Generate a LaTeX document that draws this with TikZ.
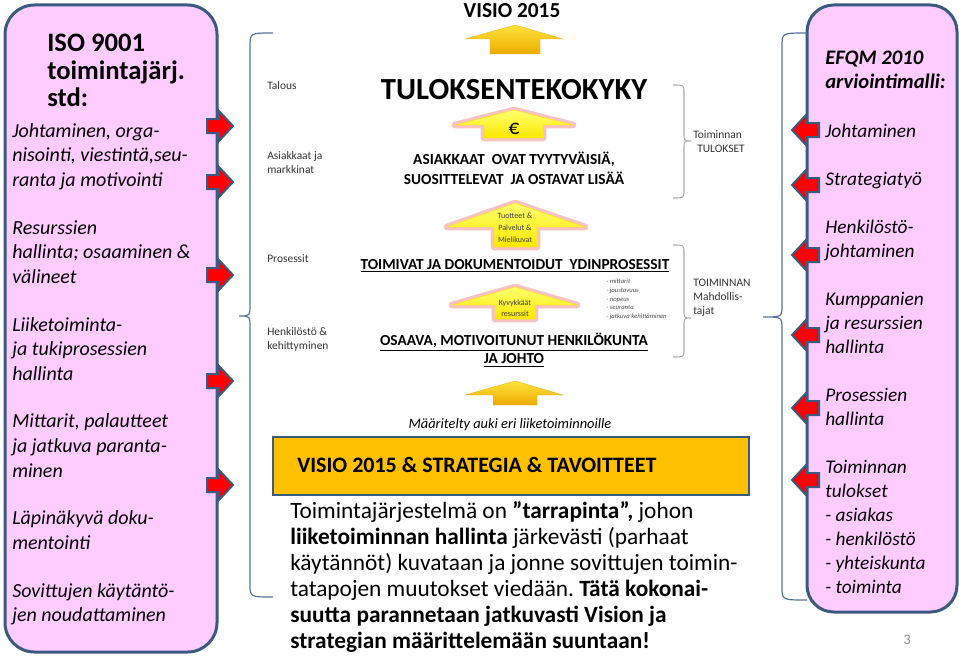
\documentclass[tikz,border=0pt]{standalone}
\usepackage{fontspec}
\setmainfont{Carlito}

\definecolor{pinkfill}{RGB}{255,204,255}
\definecolor{frameblue}{RGB}{59,90,128}
\definecolor{braceblue}{RGB}{84,114,158}
\definecolor{bracegrey}{RGB}{170,170,170}
\definecolor{boxgold}{RGB}{255,192,0}
\definecolor{goldtop}{RGB}{255,228,60}
\definecolor{goldbot}{RGB}{236,170,0}
\definecolor{lemtop}{RGB}{255,255,110}
\definecolor{lembot}{RGB}{250,232,0}
\definecolor{glowpink}{RGB}{235,120,120}

\begin{document}
\frenchspacing
\begin{tikzpicture}[x=.75pt,y=-.75pt,
 pinkbox/.style={draw=frameblue,line width=2.25pt,fill=pinkfill,rounded corners=22pt},
 goldbox/.style={draw=frameblue,line width=2pt,fill=boxgold},
 redarr/.style={draw=frameblue,line width=1.5pt,fill=red,line join=miter},
 goldarr/.style={top color=goldtop,bottom color=goldbot,draw=goldbot!90!white,line width=.3pt},
 lemarr/.style={preaction={draw=glowpink,line width=5pt,opacity=.45,line join=round},
                top color=lemtop,bottom color=lembot,draw=lembot,line width=.3pt},
 bigbrace/.style={draw=braceblue,line width=.9pt},
 smallbrace/.style={draw=bracegrey,line width=.8pt},
 head/.style={font=\bfseries\fontsize{20}{20.6}\selectfont,align=left,anchor=north west,inner sep=0},
 body/.style={font=\itshape\fontsize{15}{18.5}\selectfont,align=left,anchor=north west,inner sep=0},
 rhead/.style={font=\bfseries\itshape\fontsize{15.5}{17.5}\selectfont,align=left,anchor=north west,inner sep=0},
 rbody/.style={font=\itshape\fontsize{14.5}{18}\selectfont,align=left,anchor=north west,inner sep=0},
 lab/.style={font=\fontsize{8.6}{10.5}\selectfont,text=black!80,align=left,anchor=north west,inner sep=0},
 midbold/.style={font=\bfseries\fontsize{11.5}{15}\selectfont,align=center,inner sep=0},
 tiny/.style={font=\fontsize{6}{9}\selectfont,text=black!75,align=center,inner sep=0}]
\useasboundingbox (0,0) rectangle (959,660);

\draw[pinkbox] (5,5) rectangle (217,652);
\draw[pinkbox,rounded corners=20pt] (807,5) rectangle (957,612);

\draw[bigbrace] (273,33) .. controls (250,33) .. (250,46) -- (250,304)
 .. controls (250,316) .. (239,316) .. controls (250,316) .. (250,328) -- (250,584)
 .. controls (250,597) .. (273,597);
\draw[bigbrace] (807,33) .. controls (782,33) .. (782,46) -- (782,305)
 .. controls (782,317) .. (763,317) .. controls (782,317) .. (782,329) -- (782,587)
 .. controls (782,600) .. (807,600);
\draw[smallbrace] (673,85) .. controls (684,85) .. (684,93) -- (684,133)
 .. controls (684,141) .. (691,141) .. controls (684,141) .. (684,149) -- (684,190)
 .. controls (684,198) .. (673,198);
\draw[smallbrace] (673,245) .. controls (684,245) .. (684,253) -- (684,310)
 .. controls (684,318) .. (691,318) .. controls (684,318) .. (684,326) -- (684,349)
 .. controls (684,357) .. (673,357);

\foreach \y in {126,182,275,381,485}
 \draw[redarr] (207,\y-7) -- (219,\y-7) -- (219,\y-15) -- (233,\y) -- (219,\y+15)
  -- (219,\y+7) -- (207,\y+7) -- cycle;
\foreach \y in {130,185,255,335,408,480}
 \draw[redarr] (819,\y-7) -- (806,\y-7) -- (806,\y-15) -- (792,\y) -- (806,\y+15)
  -- (806,\y+7) -- (819,\y+7) -- cycle;

\draw[goldarr] (465,39) -- (515,25) -- (563,39) -- (540,39) -- (540,54) -- (490,54) -- (490,39) -- cycle;
\draw[lemarr] (455,125) -- (514,110) -- (573,125) -- (543,125) -- (543,138) -- (484,138) -- (484,125) -- cycle;
\draw[lemarr] (447,227) -- (515,203) -- (585,227) -- (537,227) -- (537,247) -- (494,247) -- (494,227) -- cycle;
\draw[lemarr] (452,305) -- (515,287) -- (577,305) -- (535,305) -- (535,319) -- (495,319) -- (495,305) -- cycle;
\draw[goldarr] (465,395) -- (515,381) -- (563,395) -- (537,395) -- (537,405) -- (493,405) -- (493,395) -- cycle;

\draw[goldbox] (273,437) rectangle (749,495);

\node[head] (isohead) at (47,34) {ISO 9001\\toimintajärj.\\std:};
\node[body] (isobody) at (12,123) {Johtaminen, orga-\\nisointi, viestintä,seu-\\ranta ja motivointi\\[17.2pt]
 Resurssien\\hallinta; osaaminen \&\\välineet\\[17.2pt]
 Liiketoiminta-\\ja tukiprosessien\\hallinta\\[17.2pt]
 Mittarit, palautteet\\ja jatkuva paranta-\\minen\\[17.2pt]
 Läpinäkyvä doku-\\mentointi\\[17.2pt]
 Sovittujen käytäntö-\\jen noudattaminen};

\node[rhead] (efqmhead) at (825,51) {EFQM 2010\\arviointimalli:};
\node[rbody] (efqmbody) at (825,124) {Johtaminen\\[18pt]Strategiatyö\\[18pt]
 Henkilöstö-\\johtaminen\\[18pt]
 Kumppanien\\ja resurssien\\hallinta\\[18pt]
 Prosessien\\hallinta\\[18pt]
 Toiminnan\\tulokset\\- asiakas\\- henkilöstö\\- yhteiskunta\\- toiminta};

\node[font=\bfseries\fontsize{16}{19}\selectfont,inner sep=0] (visio) at (512,11) {VISIO 2015};
\node[font=\bfseries\fontsize{23}{27}\selectfont,inner sep=0] (tulos) at (514,90) {TULOKSENTEKOKYKY};
\node[font=\fontsize{16}{19}\selectfont,inner sep=0] (euro) at (514,129) {€};
\node[midbold] (asiakkaat) at (514,168) {ASIAKKAAT\ \ OVAT TYYTYVÄISIÄ,\\SUOSITTELEVAT\ \ JA OSTAVAT LISÄÄ};
\node[tiny] (tuotteet) at (515,228) {Tuotteet \&\\Palvelut \&\\Mielikuvat};
\node[midbold] (ydin) at (515,266) {\underline{TOIMIVAT JA DOKUMENTOIDUT\ \ YDINPROSESSIT}};
\node[tiny,font=\fontsize{6}{8.5}\selectfont] (kyvyk) at (515,308) {Kyvykkäät\\resurssit};
\node[font=\itshape\fontsize{5}{6.5}\selectfont,text=black!70,align=left,anchor=north west,inner sep=0]
 (mittarit) at (606,279) {- mittarit\\- joustavuus\\- nopeus\\- seuranta\\- jatkuva kehittäminen};
\node[midbold,font=\bfseries\fontsize{11.5}{13.5}\selectfont] (osaava) at (514,350)
 {\underline{OSAAVA, MOTIVOITUNUT HENKILÖKUNTA}\\\underline{JA JOHTO}};
\node[font=\itshape\fontsize{10.8}{12}\selectfont,inner sep=0] (maar) at (510,425) {Määritelty auki eri liiketoiminnoille};
\node[font=\bfseries\fontsize{16.5}{19}\selectfont,anchor=west,inner sep=0] (strat) at (297,465) {VISIO 2015 \& STRATEGIA \& TAVOITTEET};
\node[font=\fontsize{17.5}{19.6}\selectfont,align=left,anchor=north west,inner sep=0] (tarra) at (290,501)
 {Toimintajärjestelmä on \textbf{”tarrapinta”,} johon\\
  \textbf{liiketoiminnan hallinta} järkevästi (parhaat\\
  käytännöt) kuvataan ja jonne sovittujen toimin-\\
  tatapojen muutokset viedään. \textbf{Tätä kokonai-}\\
  \textbf{suutta parannetaan jatkuvasti Vision ja}\\
  \textbf{strategian määrittelemään suuntaan!}};

\node[lab] (talous) at (267,81) {Talous};
\node[lab] (asiak) at (267,151) {Asiakkaat ja\\markkinat};
\node[lab] (pros) at (267,254) {Prosessit};
\node[lab] (henk) at (267,327) {Henkilöstö \&\\kehittyminen};
\node[lab] (tulokset) at (693,130) {Toiminnan\\\hspace{3pt}TULOKSET};
\node[lab] (mahd) at (693,279) {TOIMINNAN\\Mahdollis-\\tajat};
\node[font=\fontsize{11}{13}\selectfont,text=black!45,inner sep=0] (pnum) at (907,640) {3};
\end{tikzpicture}
\end{document}
